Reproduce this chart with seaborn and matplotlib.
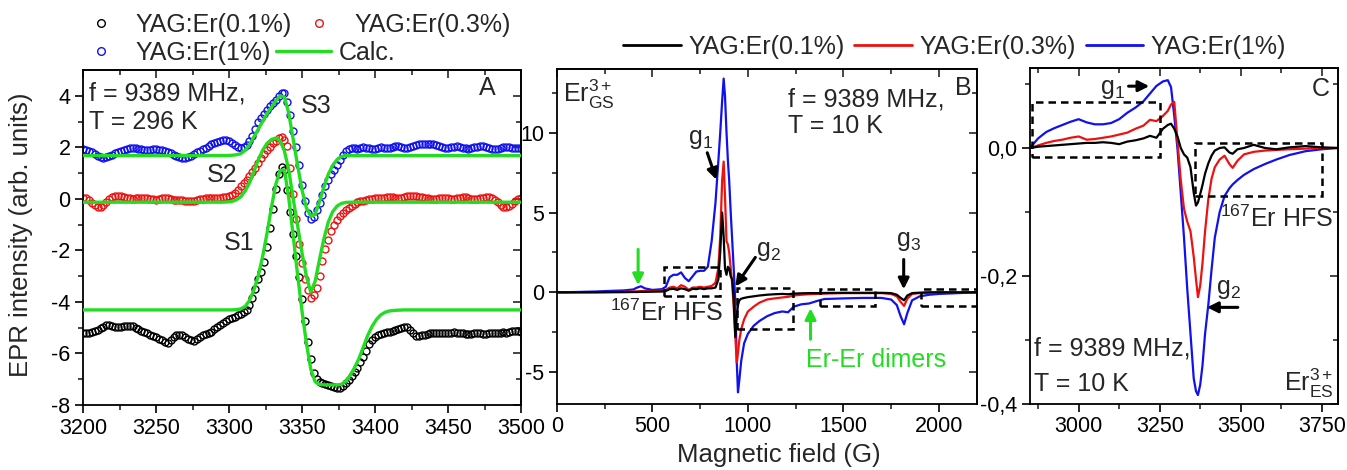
import numpy as np
import matplotlib
matplotlib.use("Agg")
import matplotlib.pyplot as plt
import seaborn as sns
from matplotlib.ticker import FixedLocator, FuncFormatter
from matplotlib.lines import Line2D
from matplotlib.patches import Rectangle

sns.set_style("ticks")
plt.rcParams["font.family"] = ["Liberation Sans", "DejaVu Sans"]
plt.rcParams["mathtext.fontset"] = "custom"
plt.rcParams["mathtext.rm"] = "Liberation Sans"
plt.rcParams["mathtext.it"] = "Liberation Sans:italic"
plt.rcParams["mathtext.bf"] = "Liberation Sans:bold"
plt.rcParams["axes.unicode_minus"] = False

BLACK, RED, BLUE, GREEN = "#000000", "#ee1111", "#1111ee", "#22dd22"

# ---------------- Panel A: room-temperature spectra (2 G sweep step) ----------------
field_a = np.arange(3200, 3501, 2)
a_er01 = [
    -5.22, -5.21, -5.19, -5.17, -5.14, -5.10, -5.03, -4.96, -4.91, -4.90,
    -4.94, -4.97, -4.97, -4.96, -4.95, -4.93, -4.92, -4.95, -5.00, -5.05,
    -5.11, -5.17, -5.22, -5.27, -5.32, -5.37, -5.42, -5.48, -5.54, -5.58,
    -5.48, -5.38, -5.30, -5.27, -5.30, -5.36, -5.43, -5.48, -5.50, -5.45,
    -5.36, -5.30, -5.25, -5.20, -5.15, -5.06, -4.97, -4.88, -4.80, -4.74,
    -4.68, -4.63, -4.58, -4.52, -4.46, -4.40, -4.30, -4.12, -3.85, -3.50,
    -3.10, -2.85, -2.45, -1.85, -1.15, -0.40, 0.40, 0.95, 1.25, 1.10,
    0.35, -0.50, -1.35, -2.20, -3.05, -3.90, -4.75, -5.55, -6.20, -6.75,
    -7.00, -7.10, -7.16, -7.20, -7.24, -7.28, -7.32, -7.35, -7.35, -7.28,
    -7.15, -7.02, -6.88, -6.72, -6.55, -6.35, -6.12, -5.90, -5.65, -5.48,
    -5.35, -5.28, -5.24, -5.20, -5.17, -5.15, -5.12, -5.10, -5.05, -5.00,
    -4.96, -4.97, -5.08, -5.22, -5.32, -5.33, -5.30, -5.27, -5.25, -5.22,
    -5.22, -5.20, -5.19, -5.20, -5.22, -5.21, -5.19, -5.18, -5.20, -5.22,
    -5.22, -5.25, -5.26, -5.24, -5.22, -5.20, -5.22, -5.25, -5.23, -5.21,
    -5.20, -5.22, -5.21, -5.19, -5.18, -5.20, -5.17, -5.14, -5.12, -5.13,
    -5.15]
a_er03 = [
    0.05, 0.02, -0.05, -0.15, -0.25, -0.32, -0.33, -0.25, -0.12, 0.00,
    0.08, 0.11, 0.12, 0.10, 0.07, 0.05, 0.02, 0.00, 0.02, 0.04,
    0.05, 0.03, 0.02, 0.00, -0.02, -0.03, -0.01, 0.02, 0.03, 0.02,
    -0.01, -0.04, -0.05, -0.06, -0.05, -0.07, -0.09, -0.10, -0.08, -0.04,
    -0.01, 0.01, 0.02, 0.02, 0.02, 0.03, 0.04, 0.05, 0.07, 0.09,
    0.10, 0.14, 0.22, 0.35, 0.48, 0.60, 0.72, 0.88, 1.03, 1.20,
    1.40, 1.58, 1.75, 1.90, 2.03, 2.15, 2.26, 2.35, 2.40, 2.30,
    2.05, 1.20, 0.20, -0.80, -1.75, -2.50, -3.10, -3.55, -3.85, -3.75,
    -3.45, -3.00, -2.40, -1.95, -1.60, -1.25, -1.00, -0.82, -0.68, -0.55,
    -0.43, -0.35, -0.27, -0.20, -0.14, -0.10, -0.07, -0.04, -0.02, 0.00,
    0.02, 0.04, 0.05, 0.05, 0.06, 0.08, 0.06, 0.03, 0.02, 0.05,
    0.08, 0.10, 0.12, 0.12, 0.11, 0.09, 0.07, 0.05, 0.03, 0.01,
    0.00, 0.01, 0.03, 0.05, 0.04, 0.02, 0.00, 0.01, 0.03, 0.05,
    0.07, 0.06, 0.03, 0.00, -0.02, -0.01, 0.02, 0.05, 0.08, 0.06,
    0.02, -0.05, -0.14, -0.24, -0.30, -0.31, -0.28, -0.20, -0.10, -0.02,
    0.05]
a_er1 = [
    1.92, 1.90, 1.86, 1.80, 1.73, 1.66, 1.61, 1.60, 1.62, 1.67,
    1.72, 1.77, 1.82, 1.86, 1.90, 1.94, 1.96, 1.97, 1.96, 1.94,
    1.92, 1.91, 1.90, 1.91, 1.93, 1.93, 1.91, 1.88, 1.85, 1.82,
    1.77, 1.72, 1.67, 1.62, 1.59, 1.58, 1.61, 1.67, 1.74, 1.80,
    1.86, 1.92, 1.98, 2.05, 2.11, 2.16, 2.21, 2.25, 2.28, 2.29,
    2.25, 2.18, 2.10, 2.02, 1.97, 2.00, 2.10, 2.25, 2.45, 2.70,
    3.00, 3.15, 3.30, 3.45, 3.60, 3.72, 3.85, 3.98, 4.10, 4.10,
    3.75, 3.25, 2.65, 2.03, 1.30, 0.55, -0.10, -0.55, -0.80, -0.72,
    -0.45, -0.15, 0.15, 0.50, 0.75, 0.95, 1.12, 1.33, 1.52, 1.70,
    1.85, 1.95, 1.98, 1.97, 1.95, 1.97, 2.00, 1.99, 1.96, 1.95,
    1.95, 1.97, 2.00, 1.98, 1.96, 1.97, 2.01, 2.04, 2.05, 2.02,
    1.99, 1.97, 2.00, 2.04, 2.08, 2.11, 2.13, 2.14, 2.13, 2.13,
    2.14, 2.10, 2.06, 2.02, 1.99, 1.98, 2.00, 2.03, 2.04, 2.02,
    1.99, 1.97, 1.95, 1.97, 2.00, 2.03, 2.05, 2.04, 2.01, 1.97,
    1.94, 1.93, 1.95, 1.97, 2.00, 2.02, 2.01, 1.99, 1.97, 1.96,
    1.98]

# simulated lines S1, S2, S3
calc_field = [3200, 3290, 3296, 3299, 3302, 3305, 3308, 3311, 3314, 3317,
              3320, 3323, 3326, 3329, 3332, 3335, 3338, 3341, 3344, 3347,
              3350, 3353, 3356, 3359, 3362, 3365, 3368, 3371, 3374, 3377,
              3380, 3383, 3386, 3389, 3392, 3395, 3398, 3401, 3404, 3407,
              3410, 3413, 3416, 3420, 3500]
calc_s1 = [-4.31, -4.31, -4.31, -4.31, -4.31, -4.30, -4.27, -4.18, -3.95, -3.55,
           -3.00, -2.25, -1.35, -0.35, 0.55, 1.10, 1.12, 0.00, -1.45, -2.95,
           -4.35, -5.60, -6.60, -7.10, -7.20, -7.22, -7.22, -7.22, -7.22, -7.20,
           -7.08, -6.85, -6.55, -6.20, -5.75, -5.30, -4.95, -4.68, -4.50, -4.40,
           -4.35, -4.33, -4.32, -4.31, -4.31]
calc_s2 = [-0.13, -0.13, -0.13, -0.12, -0.10, -0.04, 0.08, 0.30, 0.62, 1.05,
           1.50, 1.88, 2.15, 2.30, 2.36, 2.25, 1.85, 1.10, 0.00, -1.05,
           -2.10, -3.00, -3.62, -3.20, -2.35, -1.55, -0.90, -0.50, -0.28, -0.18,
           -0.14, -0.13, -0.13, -0.13, -0.13, -0.13, -0.13, -0.13, -0.13, -0.13,
           -0.13, -0.13, -0.13, -0.13, -0.13]
calc_s3 = [1.68, 1.68, 1.68, 1.68, 1.69, 1.71, 1.75, 1.88, 2.10, 2.40,
           2.70, 3.00, 3.30, 3.55, 3.80, 4.00, 3.95, 3.30, 2.30, 1.30,
           0.35, -0.35, -0.68, -0.60, -0.10, 0.45, 0.95, 1.30, 1.52, 1.64,
           1.68, 1.68, 1.68, 1.68, 1.68, 1.68, 1.68, 1.68, 1.68, 1.68,
           1.68, 1.68, 1.68, 1.68, 1.68]

# ---------------- Panel B: ground-state spectra at 10 K ----------------
b_field = [0, 100, 200, 300, 350, 400, 420, 440, 460, 500,
           550, 570, 590, 610, 630, 650, 670, 690, 710, 730,
           750, 770, 790, 810, 830, 845, 855, 865, 873, 880,
           888, 895, 902, 910, 918, 926, 934, 942, 948, 955,
           965, 980, 1000, 1030, 1060, 1100, 1140, 1180, 1210, 1240,
           1280, 1320, 1360, 1400, 1500, 1600, 1700, 1750, 1780, 1800,
           1818, 1835, 1860, 1900, 1950, 2000, 2100, 2200]
b_er1 = [0.00, 0.02, 0.05, 0.10, 0.12, 0.18, 0.30, 0.38, 0.25, 0.15,
         0.20, 0.35, 0.95, 1.10, 1.10, 1.25, 0.90, 0.70, 1.00, 1.30,
         1.35, 1.35, 1.60, 3.20, 5.60, 8.20, 10.00, 12.00, 13.40, 12.30,
         10.00, 8.30, 7.00, 5.00, 3.20, 1.40, -0.60, -4.50, -6.27, -5.50,
         -4.30, -3.20, -2.60, -2.10, -1.80, -1.50, -1.30, -1.20, -1.25, -0.90,
         -0.75, -0.70, -0.55, -0.42, -0.38, -0.35, -0.35, -0.45, -0.80, -1.50,
         -2.00, -1.30, -0.50, -0.25, -0.15, -0.10, -0.05, 0.00]
b_er03 = [0.00, 0.00, 0.01, 0.02, 0.03, 0.05, 0.06, 0.08, 0.08, 0.08,
          0.10, 0.15, 0.30, 0.35, 0.25, 0.45, 0.35, 0.15, 0.30, 0.30,
          0.35, 0.30, 0.35, 0.40, 0.60, 1.50, 3.50, 7.00, 8.20, 6.00,
          3.20, 3.00, 2.50, 1.50, 0.50, -1.00, -2.80, -4.40, -3.80, -3.00,
          -2.30, -1.70, -1.20, -0.90, -0.65, -0.45, -0.38, -0.32, -0.28, -0.20,
          -0.15, -0.12, -0.10, -0.08, -0.05, -0.05, -0.05, -0.10, -0.25, -0.60,
          -0.85, -0.40, -0.10, -0.05, -0.02, 0.00, 0.00, 0.00]
b_er01 = [0.00, 0.00, 0.00, 0.01, 0.01, 0.02, 0.02, 0.03, 0.03, 0.04,
          0.05, 0.08, 0.20, 0.22, 0.15, 0.25, 0.20, 0.10, 0.22, 0.20,
          0.25, 0.20, 0.25, 0.25, 0.30, 0.80, 2.50, 5.00, 3.50, 1.50,
          1.10, 1.60, 1.50, 1.00, 0.80, -0.50, -2.80, -1.50, -0.80, -0.50,
          -0.40, -0.35, -0.30, -0.25, -0.20, -0.15, -0.12, -0.10, -0.12, -0.08,
          -0.06, -0.05, -0.05, -0.04, -0.03, -0.03, -0.03, -0.05, -0.15, -0.35,
          -0.50, -0.20, -0.05, -0.02, 0.00, 0.00, 0.00, 0.00]

# ---------------- Panel C: excited-state spectra at 10 K ----------------
c_field = [2850, 2875, 2900, 2925, 2950, 2975, 3000, 3025, 3050, 3075,
           3100, 3125, 3150, 3175, 3200, 3220, 3240, 3260, 3275, 3285,
           3295, 3305, 3315, 3325, 3335, 3345, 3355, 3362, 3368, 3375,
           3382, 3390, 3400, 3410, 3420, 3435, 3450, 3465, 3475, 3490,
           3510, 3540, 3575, 3610, 3650, 3700, 3750, 3800]
c_er1 = [0.000, 0.015, 0.025, 0.031, 0.036, 0.041, 0.045, 0.040, 0.037, 0.037,
         0.039, 0.045, 0.055, 0.063, 0.073, 0.085, 0.097, 0.104, 0.106, 0.095,
         0.050, -0.002, -0.070, -0.140, -0.220, -0.290, -0.360, -0.380, -0.386, -0.370,
         -0.340, -0.290, -0.245, -0.190, -0.140, -0.100, -0.075, -0.063, -0.057, -0.050,
         -0.042, -0.033, -0.025, -0.018, -0.011, -0.005, -0.002, 0.000]
c_er03 = [0.000, 0.004, 0.008, 0.011, 0.013, 0.016, 0.018, 0.013, 0.014, 0.016,
          0.018, 0.021, 0.024, 0.030, 0.035, 0.044, 0.042, 0.050, 0.058, 0.068,
          0.072, 0.010, -0.050, -0.095, -0.115, -0.130, -0.170, -0.205, -0.233, -0.215,
          -0.180, -0.130, -0.080, -0.048, -0.030, -0.018, -0.012, -0.025, -0.031, -0.020,
          -0.010, -0.006, -0.004, -0.003, -0.002, -0.001, 0.000, 0.000]
c_er01 = [0.000, 0.002, 0.003, 0.004, 0.005, 0.006, 0.007, 0.008, 0.008, 0.009,
          0.008, 0.006, 0.010, 0.012, 0.015, 0.019, 0.016, 0.030, 0.036, 0.038,
          0.030, 0.018, 0.000, -0.010, -0.015, -0.030, -0.070, -0.090, -0.085, -0.072,
          -0.058, -0.040, -0.024, -0.012, -0.004, 0.000, 0.001, -0.007, -0.009, -0.002,
          0.000, 0.005, 0.000, -0.002, 0.001, 0.003, 0.001, 0.000]

series_labels = ["YAG:Er(0.1%)", "YAG:Er(0.3%)", "YAG:Er(1%)"]

# ---------------- figure layout ----------------
W, H = 1347, 470
fig = plt.figure(figsize=(W / 100, H / 100), dpi=100)


def px_box(l, t, r, b):
    return [l / W, 1 - b / H, (r - l) / W, (b - t) / H]


ax_a = fig.add_axes(px_box(83, 70, 521, 405))
ax_b = fig.add_axes(px_box(557, 69, 977, 404))
ax_c = fig.add_axes(px_box(1030, 68, 1338, 404))

TXT = 18


def style_axis(ax, xlim, ylim, xmaj, xmin, ymaj, ymin, yfmt=None):
    ax.set_xlim(*xlim)
    ax.set_ylim(*ylim)
    ax.xaxis.set_major_locator(FixedLocator(xmaj))
    ax.xaxis.set_minor_locator(FixedLocator(xmin))
    ax.yaxis.set_major_locator(FixedLocator(ymaj))
    ax.yaxis.set_minor_locator(FixedLocator(ymin))
    if yfmt is not None:
        ax.yaxis.set_major_formatter(yfmt)
    ax.set_xlabel("")
    ax.set_ylabel("")
    ax.tick_params(which="major", direction="out", length=6, width=1.2,
                   labelsize=15.5, pad=3, color="black", labelcolor="black")
    ax.tick_params(which="minor", direction="out", length=3.5, width=1.2)
    for s in ax.spines.values():
        s.set_visible(True)
        s.set_linewidth(1.3)
        s.set_color("black")
    top = ax.secondary_xaxis("top")
    top.xaxis.set_major_locator(FixedLocator(xmaj))
    top.xaxis.set_minor_locator(FixedLocator(xmin))
    top.tick_params(which="major", direction="in", length=6, width=1.2, labeltop=False)
    top.tick_params(which="minor", direction="in", length=3.5, width=1.2)
    top.spines["top"].set_linewidth(1.3)
    right = ax.secondary_yaxis("right")
    right.yaxis.set_major_locator(FixedLocator(ymaj))
    right.yaxis.set_minor_locator(FixedLocator(ymin))
    right.tick_params(which="major", direction="in", length=6, width=1.2, labelright=False)
    right.tick_params(which="minor", direction="in", length=3.5, width=1.2)
    right.spines["right"].set_linewidth(1.3)


def arrow(ax, start, end, color=BLACK):
    ax.annotate("", xy=end, xytext=start,
                arrowprops=dict(arrowstyle="-|>", color=color, lw=2.2,
                                mutation_scale=16, shrinkA=0, shrinkB=0))


def dashed_box(ax, x0, x1, y0, y1):
    ax.add_patch(Rectangle((x0, y0), x1 - x0, y1 - y0, fill=False, ec=BLACK,
                           lw=1.8, ls=(0, (3, 2)), zorder=5))


# ---------------- Panel A ----------------
for vals, col in zip([a_er01, a_er03, a_er1], [BLACK, RED, BLUE]):
    sns.lineplot(x=field_a, y=vals, ax=ax_a, estimator=None, sort=False, legend=False,
                 marker="o", ls="none", ms=5, mfc="none", mec=col, mew=1.0, zorder=2)
for vals in [calc_s1, calc_s2, calc_s3]:
    sns.lineplot(x=calc_field, y=vals, ax=ax_a, estimator=None, sort=False, legend=False,
                 color=GREEN, lw=2.4, zorder=3)

style_axis(ax_a, (3200, 3500), (-8, 5),
           np.arange(3200, 3501, 50), np.arange(3225, 3500, 50),
           np.arange(-8, 5, 2), np.arange(-7, 5, 2))

ax_a.text(3204, 4.1, "f = 9389 MHz,", fontsize=TXT, va="center", ha="left")
ax_a.text(3204, 3.0, "T = 296 K", fontsize=TXT, va="center", ha="left")
ax_a.text(3477, 4.3, "A", fontsize=TXT, va="center", ha="center")
ax_a.text(3360, 3.6, "S3", fontsize=TXT, va="center", ha="center")
ax_a.text(3295, 0.93, "S2", fontsize=TXT, va="center", ha="center")
ax_a.text(3307, -1.71, "S1", fontsize=TXT, va="center", ha="center")

# ---------------- Panel B ----------------
for vals, col in zip([b_er1, b_er03, b_er01], [BLUE, RED, BLACK]):
    sns.lineplot(x=b_field, y=vals, ax=ax_b, estimator=None, sort=False, legend=False,
                 color=col, lw=1.6)

style_axis(ax_b, (0, 2200), (-7, 14),
           [0, 500, 1000, 1500, 2000], [250, 750, 1250, 1750],
           [-5, 0, 5, 10], [-2.5, 2.5, 7.5, 12.5])

ax_b.text(30, 12.4, r"Er$^{\mathrm{3+}}_{\mathrm{GS}}$", fontsize=TXT, va="center", ha="left")
ax_b.text(1212, 12.1, "f = 9389 MHz,", fontsize=TXT, va="center", ha="left")
ax_b.text(1212, 10.4, "T = 10 K", fontsize=TXT, va="center", ha="left")
ax_b.text(2126, 12.8, "B", fontsize=TXT, va="center", ha="center")
ax_b.text(751, 9.6, r"g$_{1}$", fontsize=TXT, va="center", ha="center")
arrow(ax_b, (787, 8.75), (835, 7.06))
ax_b.text(1108, 2.6, r"g$_{2}$", fontsize=TXT, va="center", ha="center")
arrow(ax_b, (1039, 2.19), (934, 0.37))
ax_b.text(1843, 3.2, r"g$_{3}$", fontsize=TXT, va="center", ha="center")
arrow(ax_b, (1816, 2.06), (1816, 0.19))
ax_b.text(572, -1.3, r"$^{\mathrm{167}}$Er HFS", fontsize=TXT, va="center", ha="center")
arrow(ax_b, (425, 2.69), (425, 0.45), GREEN)
arrow(ax_b, (1328, -2.94), (1328, -1.0), GREEN)
ax_b.text(1302, -4.25, "Er-Er dimers", fontsize=TXT, va="center", ha="left", color=GREEN)

dashed_box(ax_b, 562, 856, -0.25, 1.56)
dashed_box(ax_b, 943, 1235, -2.31, 0.29)
dashed_box(ax_b, 1377, 1666, -0.86, 0.23)
dashed_box(ax_b, 1909, 2215, -0.86, 0.23)

# ---------------- Panel C ----------------
for vals, col in zip([c_er1, c_er03, c_er01], [BLUE, RED, BLACK]):
    sns.lineplot(x=c_field, y=vals, ax=ax_c, estimator=None, sort=False, legend=False,
                 color=col, lw=1.6)

comma_fmt = FuncFormatter(lambda v, p: f"{round(v, 1):.1f}".replace(".", ",").replace("-0,0", "0,0"))
style_axis(ax_c, (2850, 3800), (-0.4, 0.125),
           [3000, 3250, 3500, 3750], [2875, 3125, 3375, 3625],
           [-0.4, -0.2, 0.0], [-0.3, -0.1, 0.1], yfmt=comma_fmt)

ax_c.text(3747, 0.092, "C", fontsize=TXT, va="center", ha="center")
ax_c.text(3105, 0.092, r"g$_{1}$", fontsize=TXT, va="center", ha="center")
arrow(ax_c, (3154, 0.0966), (3218, 0.0966))
ax_c.text(3463, -0.221, r"g$_{2}$", fontsize=TXT, va="center", ha="center")
arrow(ax_c, (3491, -0.249), (3396, -0.249))
ax_c.text(3786, -0.111, r"$^{\mathrm{167}}$Er HFS", fontsize=TXT, va="center", ha="right")
ax_c.text(2861, -0.313, "f = 9389 MHz,", fontsize=TXT, va="center", ha="left")
ax_c.text(2861, -0.369, "T = 10 K", fontsize=TXT, va="center", ha="left")
ax_c.text(3788, -0.368, r"Er$^{\mathrm{3+}}_{\mathrm{ES}}$", fontsize=TXT, va="center", ha="right")

dashed_box(ax_c, 2857, 3250, -0.0135, 0.0717)
dashed_box(ax_c, 3359, 3752, -0.0748, 0.0073)

# ---------------- legends ----------------
def marker_handle(col):
    return Line2D([], [], marker="o", ls="none", ms=5.5, mfc="none", mec=col, mew=1.0)


leg_kw = dict(frameon=False, borderpad=0, borderaxespad=0, fontsize=TXT,
              handlelength=2.2, handletextpad=0.3, columnspacing=0.0, loc="center left")
fig.legend([marker_handle(BLACK), marker_handle(RED)], series_labels[:2], ncol=2,
           bbox_to_anchor=(73 / W, 1 - 25 / H), **leg_kw)
fig.legend([marker_handle(BLUE), Line2D([], [], color=GREEN, lw=2.4)],
           [series_labels[2], "Calc."], ncol=2,
           bbox_to_anchor=(73 / W, 1 - 53 / H), **{**leg_kw, "columnspacing": 0.2})
fig.legend([Line2D([], [], color=c, lw=2.0) for c in [BLACK, RED, BLUE]], series_labels,
           ncol=3, bbox_to_anchor=(623 / W, 1 - 47 / H),
           **{**leg_kw, "handlelength": 2.3, "columnspacing": 0.4})

fig.text(21 / W, 1 - 235 / H, "EPR intensity (arb. units)", rotation=90,
         ha="center", va="center", fontsize=18.5)
fig.text(779 / W, 1 - 455 / H, "Magnetic field (G)", ha="center", va="center", fontsize=18.5)

fig.savefig("out.png", dpi=100)
